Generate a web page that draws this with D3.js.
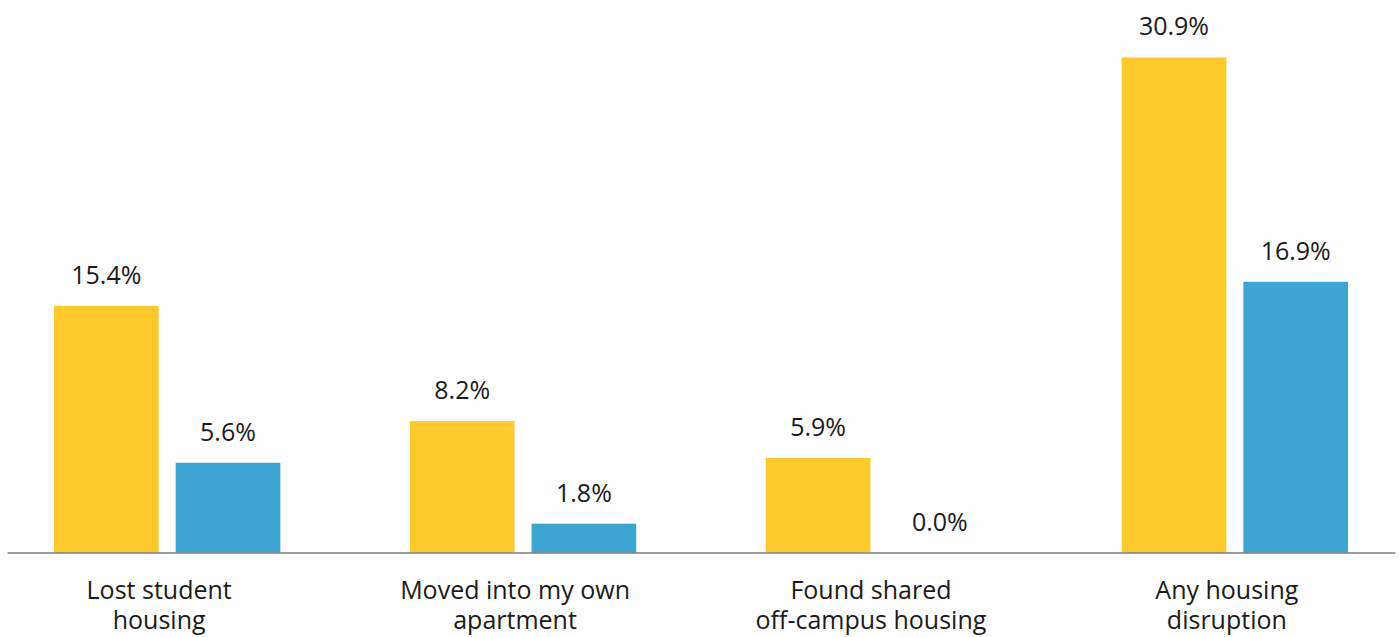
<!DOCTYPE html>
<html>
<head>
<meta charset="utf-8">
<script src="https://cdn.jsdelivr.net/npm/d3@7"></script>
<style>
  body { margin: 0; background: #fff; }
  text { font-family: "Open Sans", "Noto Sans", sans-serif; fill: #1a1a1a; }
</style>
</head>
<body>
<svg id="chart" width="1400" height="637"></svg>
<script>
const categories = [
    ["Lost student", "housing"],
    ["Moved into my own", "apartment"],
    ["Found shared", "off-campus housing"],
    ["Any housing", "disruption"]
];
const seriesNames = ["first", "second"];
const firstValues = [15.4, 8.2, 5.9, 30.9];
const secondValues = [5.6, 1.8, 0.0, 16.9];
const COLORS = ["#fec92d", "#3da5d4"];

const svg = d3.select("#chart");
const BASE_Y = 552.5;
const PX_PER_PCT = 16.02;

const keys = categories.map((c, i) => i);
const xScale = d3.scaleBand()
                 .domain(keys)
                 .range([7, 1395])
                 .paddingInner(0.364)
                 .paddingOuter(0.132);

const subScale = d3.scaleBand()
                   .domain(seriesNames)
                   .range([0, xScale.bandwidth()])
                   .paddingInner(0.14);

const yScale = d3.scaleLinear()
                 .domain([0, 34])
                 .range([BASE_Y, BASE_Y - 34 * PX_PER_PCT]);

const rows = [];
keys.forEach(i => {
    rows.push({ cat: i, s: 0, v: firstValues[i] });
    rows.push({ cat: i, s: 1, v: secondValues[i] });
});

svg.selectAll("rect.bar")
   .data(rows)
   .enter()
   .append("rect")
   .attr("class", "bar")
   .attr("x", d => xScale(d.cat) + subScale(seriesNames[d.s]))
   .attr("y", d => yScale(d.v))
   .attr("width", subScale.bandwidth())
   .attr("height", d => yScale(0) - yScale(d.v))
   .style("fill", d => COLORS[d.s]);

svg.selectAll("text.value")
   .data(rows)
   .enter()
   .append("text")
   .attr("class", "value")
   .attr("x", d => xScale(d.cat) + subScale(seriesNames[d.s]) + subScale.bandwidth() / 2)
   .attr("y", d => yScale(d.v) - 22)
   .attr("text-anchor", "middle")
   .style("font-size", "25px")
   .text(d => d.v.toFixed(1) + "%");

// baseline
const xAxis = d3.axisBottom(xScale)
                .tickSize(0)
                .tickFormat("");

const axisG = svg.append("g")
                 .attr("transform", `translate(0, ${BASE_Y})`)
                 .call(xAxis);
axisG.select(".domain")
     .attr("stroke", "#7a7a7a")
     .attr("stroke-width", 1.5);

const labels = svg.selectAll("text.cat")
                  .data(keys)
                  .enter()
                  .append("text")
                  .attr("class", "cat")
                  .attr("text-anchor", "middle")
                  .style("font-size", "25px");

labels.each(function(i) {
    const cx = xScale(i) + xScale.bandwidth() / 2 - 8;
    categories[i].forEach((line, j) => {
        d3.select(this).append("tspan")
          .attr("x", cx)
          .attr("y", 599 + j * 30)
          .text(line);
    });
});
</script>
</body>
</html>
